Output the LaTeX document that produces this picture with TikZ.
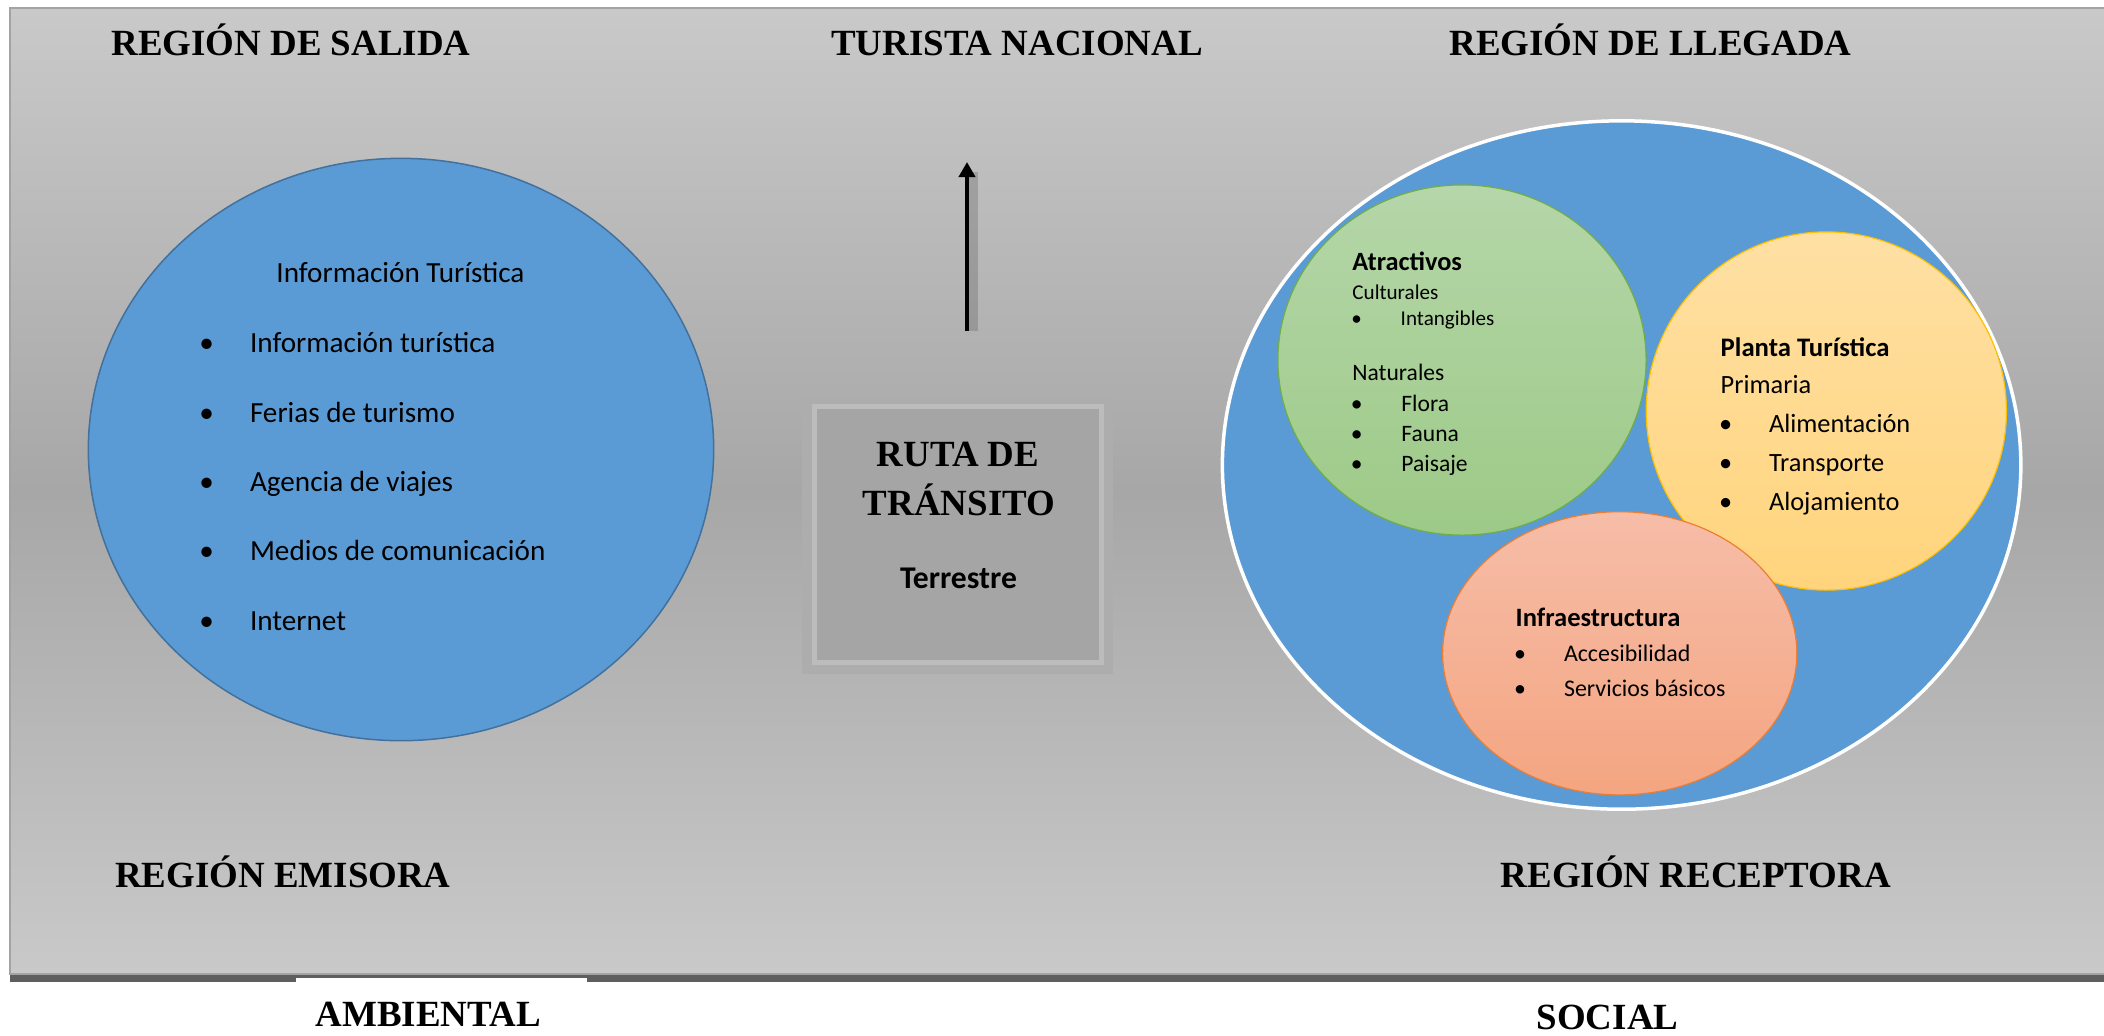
\documentclass[tikz,border=0pt]{standalone}
\usepackage{fontspec}
\setmainfont{Carlito}
\newfontfamily\titulofont{Liberation Serif}
\usepackage{xcolor}
\definecolor{fondoclaro}{HTML}{C9C9C9}
\definecolor{fondooscuro}{HTML}{A7A7A7}
\definecolor{bordefondo}{HTML}{A3A3A3}
\definecolor{sombrabarra}{HTML}{5E5E5E}
\definecolor{azulregion}{HTML}{5B9BD5}
\definecolor{azulborde}{HTML}{41719C}
\definecolor{verdearriba}{HTML}{B5D6A9}
\definecolor{verdeabajo}{HTML}{9DCA87}
\definecolor{verdeborde}{HTML}{70AD47}
\definecolor{amarilloarriba}{HTML}{FFE0A4}
\definecolor{amarilloabajo}{HTML}{FFD47C}
\definecolor{amarilloborde}{HTML}{FFC000}
\definecolor{salmonarriba}{HTML}{F6BDA8}
\definecolor{salmonabajo}{HTML}{F4A581}
\definecolor{salmonborde}{HTML}{ED7D31}
\definecolor{rutamarco}{HTML}{ADADAD}
\definecolor{rutalinea}{HTML}{BCBCBC}
\definecolor{rutarelleno}{HTML}{A5A5A5}
\usepackage{tikz}
\usetikzlibrary{
    shapes.geometric,
    arrows.meta
}
\tikzstyle{titulo} = [
    anchor=base west,
    inner sep=0pt,
    font=\titulofont\bfseries\fontsize{10.5}{12}\selectfont
]
\tikzstyle{arrow} = [
    -{Triangle[width=0.16cm, length=0.15cm]},
    line width=0.045cm
]

\begin{document}
\begin{tikzpicture}[
    x=0.01cm, y=-0.01cm,
    region/.style={ellipse, inner sep=0pt, fill=azulregion},
    subregion/.style={ellipse, inner sep=0pt, line width=0.012cm},
    lista/.style={anchor=base west, inner sep=0pt},
    bala/.style={anchor=base, inner sep=0pt},
    rutatexto/.style={anchor=base, inner sep=0pt, font=\titulofont\bfseries\fontsize{10.5}{12}\selectfont}
]
    \useasboundingbox (0,0) rectangle (2104,1035);

    % Background panel
    \fill[sombrabarra] (10,972) rectangle (2104,982);
    \fill[top color=fondoclaro, bottom color=fondoclaro, middle color=fondooscuro] (10,8) rectangle (2110,974);
    \draw[bordefondo, line width=0.02cm] (2110,8) -- (10,8) -- (10,974) -- (2110,974);

    % Titles
    \node[titulo] (salida) at (110.7,55) {REGIÓN DE SALIDA};
    \node[titulo] (turista) at (830.5,55) {TURISTA NACIONAL};
    \node[titulo] (llegada) at (1448.8,55) {REGIÓN DE LLEGADA};
    \node[titulo] (emisora) at (114.5,887) {REGIÓN EMISORA};
    \node[titulo] (receptora) at (1500,887) {REGIÓN RECEPTORA};
    \node[titulo, fill=white, text width=2.91cm, align=left, text height=0.48cm, text depth=0.1cm] (ambiental) at (295,1026) {\hspace*{0.2cm}AMBIENTAL};
    \node[titulo] (social) at (1536,1029) {SOCIAL};

    % Region emisora
    \node[region, draw=azulborde, line width=0.015cm, minimum width=6.25cm, minimum height=5.82cm] (emisor) at (401,449.5) {};
    \node[lista, font=\fontsize{8.3}{10}\selectfont] (infotitulo) at (275.7,282.7) {Información Turística};
    \node[bala, font=\fontsize{8.3}{10}\selectfont] (b1) at (206.7,352.7) {\textbullet};
    \node[lista, font=\fontsize{8.3}{10}\selectfont] (info1) at (249.3,352.7) {Información turística};
    \node[bala, font=\fontsize{8.3}{10}\selectfont] (b2) at (206.7,422) {\textbullet};
    \node[lista, font=\fontsize{8.3}{10}\selectfont] (info2) at (249.3,422) {Ferias de turismo};
    \node[bala, font=\fontsize{8.3}{10}\selectfont] (b3) at (206.7,491.3) {\textbullet};
    \node[lista, font=\fontsize{8.3}{10}\selectfont] (info3) at (249.3,491.3) {Agencia de viajes};
    \node[bala, font=\fontsize{8.3}{10}\selectfont] (b4) at (206.7,560.6) {\textbullet};
    \node[lista, font=\fontsize{8.3}{10}\selectfont] (info4) at (249.3,560.6) {Medios de comunicación};
    \node[bala, font=\fontsize{8.3}{10}\selectfont] (b5) at (206.7,630) {\textbullet};
    \node[lista, font=\fontsize{8.3}{10}\selectfont] (info5) at (249.3,630) {Internet};

    % Arrow
    \coordinate (flechaini) at (967,331);
    \coordinate (flechafin) at (967,162);
    \draw[line width=0.1cm, black, opacity=0.15] ([xshift=0.06cm]flechaini) -- ([xshift=0.06cm, yshift=-0.1cm]flechafin);
    \draw[arrow] (flechaini) -- (flechafin);

    % Ruta de transito
    \node[rectangle, inner sep=0pt, fill=rutamarco, minimum width=3.11cm, minimum height=2.79cm] (rutamarcoext) at (957.4,534.5) {};
    \node[rectangle, inner sep=0pt, draw=rutalinea, line width=0.05cm, fill=rutarelleno, minimum width=2.87cm, minimum height=2.56cm] (ruta) at (957.9,534.5) {};
    \node[rutatexto] (ruta1) at (958,466) {RUTA DE};
    \node[rutatexto] (ruta2) at (959,515.7) {TRÁNSITO};
    \node[bala, font=\bfseries\fontsize{9}{11}\selectfont] (terrestre) at (958.5,588.6) {Terrestre};

    % Region receptora
    \node[region, draw=white, line width=0.035cm, minimum width=7.98cm, minimum height=6.88cm] (receptor) at (1621.6,465) {};

    % Atractivos
    \node[subregion, draw=verdeborde, top color=verdearriba, bottom color=verdeabajo, minimum width=3.68cm, minimum height=3.5cm] (atractivos) at (1462,360) {};
    \node[lista, font=\bfseries\fontsize{7.5}{9}\selectfont] (atr0) at (1351.7,270.7) {Atractivos};
    \node[lista, font=\fontsize{6}{7}\selectfont] (atr1) at (1351.7,299) {Culturales};
    \node[bala, font=\fontsize{6}{7}\selectfont] (ab1) at (1356.7,325.7) {\textbullet};
    \node[lista, font=\fontsize{6}{7}\selectfont] (atr2) at (1400,325.7) {Intangibles};
    \node[lista, font=\fontsize{6.7}{8}\selectfont] (atr3) at (1351.7,380.7) {Naturales};
    \node[bala, font=\fontsize{6.7}{8}\selectfont] (ab2) at (1356.7,411.7) {\textbullet};
    \node[lista, font=\fontsize{6.7}{8}\selectfont] (atr4) at (1400.7,411.7) {Flora};
    \node[bala, font=\fontsize{6.7}{8}\selectfont] (ab3) at (1356.7,441.7) {\textbullet};
    \node[lista, font=\fontsize{6.7}{8}\selectfont] (atr5) at (1400.7,441.7) {Fauna};
    \node[bala, font=\fontsize{6.7}{8}\selectfont] (ab4) at (1356.7,471.7) {\textbullet};
    \node[lista, font=\fontsize{6.7}{8}\selectfont] (atr6) at (1400.7,471.7) {Paisaje};

    % Planta turistica
    \node[subregion, draw=amarilloborde, top color=amarilloarriba, bottom color=amarilloabajo, minimum width=3.6cm, minimum height=3.58cm] (planta) at (1826.3,411) {};
    \node[lista, font=\bfseries\fontsize{7.6}{9}\selectfont] (pla0) at (1720,356.7) {Planta Turística};
    \node[lista, font=\fontsize{7.5}{9}\selectfont] (pla1) at (1720,393.3) {Primaria};
    \node[bala, font=\fontsize{7.5}{9}\selectfont] (pb1) at (1725.7,432.7) {\textbullet};
    \node[lista, font=\fontsize{7.5}{9}\selectfont] (pla2) at (1768.3,432.7) {Alimentación};
    \node[bala, font=\fontsize{7.5}{9}\selectfont] (pb2) at (1725.7,471.7) {\textbullet};
    \node[lista, font=\fontsize{7.5}{9}\selectfont] (pla3) at (1768.3,471.7) {Transporte};
    \node[bala, font=\fontsize{7.5}{9}\selectfont] (pb3) at (1725.7,510) {\textbullet};
    \node[lista, font=\fontsize{7.5}{9}\selectfont] (pla4) at (1768.3,510) {Alojamiento};

    % Infraestructura
    \node[subregion, draw=salmonborde, top color=salmonarriba, bottom color=salmonabajo, minimum width=3.54cm, minimum height=2.83cm] (infra) at (1619.7,653.3) {};
    \node[lista, font=\bfseries\fontsize{7.55}{9}\selectfont] (inf0) at (1515,626) {Infraestructura};
    \node[bala, font=\fontsize{6.8}{8}\selectfont] (ib1) at (1520,661.7) {\textbullet};
    \node[lista, font=\fontsize{6.8}{8}\selectfont] (inf1) at (1563.3,661.7) {Accesibilidad};
    \node[bala, font=\fontsize{6.8}{8}\selectfont] (ib2) at (1520,696.7) {\textbullet};
    \node[lista, font=\fontsize{6.8}{8}\selectfont] (inf2) at (1563.3,696.7) {Servicios básicos};

\end{tikzpicture}
\end{document}
